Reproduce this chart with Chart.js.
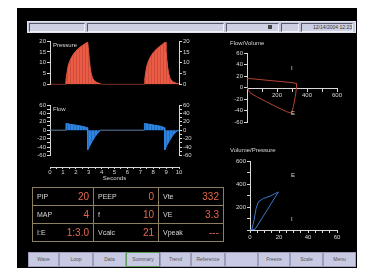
<!DOCTYPE html>
<html>
<head>
<meta charset="utf-8">
<script src="https://cdn.jsdelivr.net/npm/chart.js@4"></script>
<style>
body{margin:0;width:369px;height:268px;background:#fff;overflow:hidden;position:relative;font-family:"Liberation Sans",Arial,sans-serif;}
#screen{position:absolute;left:17px;top:8px;width:340px;height:260px;background:#000;}
canvas{position:absolute;}
.lbl{position:absolute;color:#d8d8d8;font-size:6px;line-height:6px;white-space:nowrap;}
#topbar{position:absolute;left:27px;top:21px;width:327px;height:10px;background:#c6c8dc;border:1px solid #e4e4f0;}
.field{position:absolute;top:1px;height:7px;border-top:1px solid #55576a;border-left:1px solid #55576a;border-bottom:1px solid #f0f0f8;border-right:1px solid #f0f0f8;background:#ccd0e2;font-size:5px;line-height:7px;color:#333;text-align:right;}
#buttons{position:absolute;left:28px;top:252px;height:15px;}
.btn{position:absolute;top:0;height:13px;background:#c8c9e2;border:1px solid #9c9cbc;font-size:5px;line-height:13px;color:#555;text-align:center;}
#tbl{position:absolute;left:32px;top:187px;border-collapse:collapse;}
#tbl td{border:1px solid #8c7f60;height:17px;padding:0 4px 0 4px;position:relative;}
#tbl .k{font-size:7px;color:#d8d8d8;float:left;line-height:17px;}
#tbl .v{font-size:10px;color:#e4684f;float:right;line-height:17px;}
</style>
</head>
<body>
<div id="screen"></div>
<div id="topbar"></div>
<div id="buttons"></div>

<canvas id="cPressure" width="180" height="55" style="left:26px;top:34px"></canvas>
<canvas id="cFlow" width="180" height="62" style="left:26px;top:98px"></canvas>
<canvas id="cTime" width="141" height="22" style="left:44px;top:160px"></canvas>
<canvas id="cFV" width="125" height="85" style="left:222px;top:44px"></canvas>
<canvas id="cVP" width="125" height="90" style="left:222px;top:150px"></canvas>

<div class="lbl" style="left:53px;top:42px">Pressure</div>
<div class="lbl" style="left:53px;top:106px">Flow</div>
<div class="lbl" style="left:230px;top:40px">Flow/Volume</div>
<div class="lbl" style="left:230px;top:147px">Volume/Pressure</div>
<div class="lbl" style="left:291px;top:65px">I</div>
<div class="lbl" style="left:291px;top:110px">E</div>
<div class="lbl" style="left:291px;top:172px">E</div>
<div class="lbl" style="left:291px;top:216px">I</div>

<table id="tbl"></table>

<script>
// waveforms (time in seconds)
const pressureTime = [0, 1.22, 1.25, 1.32, 1.42, 1.55, 1.7, 1.9, 2.15, 2.4, 2.65, 2.85, 2.92, 2.98, 3.05, 3.12, 3.2, 3.3, 3.45, 3.6, 3.8, 4.0,
  7.32, 7.35, 7.42, 7.52, 7.65, 7.8, 8.0, 8.25, 8.5, 8.72, 8.88, 8.93, 8.99, 9.06, 9.13, 9.21, 9.31, 9.45, 9.6, 9.8, 10];
const pressureValue = [0, 0, 2.5, 5.5, 8.8, 11, 12.8, 14.6, 16.3, 17.5, 18.5, 19.3, 19.4, 16, 11.5, 7.5, 4.8, 2.8, 1.6, 1, 0.5, 0,
  0, 2.5, 5.5, 8.8, 11, 12.8, 14.6, 16.3, 17.5, 18.5, 19.3, 19.4, 16, 11.5, 7.5, 4.8, 2.8, 1.6, 1, 0.5, 0.2];

const flowTime = [0, 1.22, 1.24, 1.6, 2.0, 2.4, 2.9, 2.92, 3.1, 3.3, 3.5, 3.7, 3.9,
  7.3, 7.32, 7.7, 8.1, 8.5, 8.88, 8.9, 9.06, 9.26, 9.46, 9.66, 9.85, 10];
const flowValue = [0, 0, 16, 14, 12, 10, 6, -47, -36, -25, -15, -7, 0,
  0, 16, 14, 12, 10, 6, -47, -36, -25, -15, -7, -2, 0];

// loops
const fvVolume = [0, 0, 100, 200, 300, 330, 330, 322, 310, 298, 264, 198, 131, 64, 20, 0];
const fvFlow = [0, 16, 13.5, 11, 8.5, 7, 0, -16, -32, -45, -42, -34, -25, -16, -9, 0];

const vpPressure = [0, 1.2, 2.8, 4.2, 5.8, 9.2, 13.8, 19.6, 3.5, 0];
const vpVolume = [0, 0, 86, 187, 245, 274, 294, 331, 6, 0];

// summary table
const tableLabels = [['PIP', 'PEEP', 'Vte'], ['MAP', 'f', 'VE'], ['I:E', 'Vcalc', 'Vpeak']];
const tableValues = [['20', '0', '332'], ['4', '10', '3.3'], ['1:3.0', '21', '---']];

const buttonLabels = ['Wave', 'Loop', 'Data', 'Summary', 'Trend', 'Reference', '', 'Freeze', 'Scale', 'Menu'];
const buttonEdges = [0, 31, 65, 98, 132, 163, 197, 230, 262, 295, 328];
const dateText = '12/14/2004 12:23';

// ---- screen chrome ----
var fields = [[1, 57], [59, 196], [198, 251], [253, 271], [273, 325]];
var bar = document.getElementById('topbar');
fields.forEach(function(f, i){
  var d = document.createElement('div');
  d.className = 'field';
  d.style.left = f[0] + 'px';
  d.style.width = (f[1] - f[0] - 2) + 'px';
  if (i == 4) d.textContent = dateText;
  if (i == 2) d.innerHTML = '<span style="display:inline-block;width:4px;height:4px;background:#444;margin:0 6px 0 0"></span>';
  bar.appendChild(d);
});

var btns = document.getElementById('buttons');
buttonLabels.forEach(function(b, i){
  var d = document.createElement('div');
  d.className = 'btn';
  d.style.left = buttonEdges[i] + 'px';
  d.style.width = (buttonEdges[i + 1] - buttonEdges[i] - 2) + 'px';
  d.textContent = b;
  if (b == 'Summary') d.style.borderColor = '#5f9a5f';
  btns.appendChild(d);
});

var tbl = document.getElementById('tbl');
var colW = [52, 56, 56];
tableLabels.forEach(function(row, r){
  var tr = document.createElement('tr');
  row.forEach(function(k, c){
    var td = document.createElement('td');
    td.style.width = colW[c] + 'px';
    td.innerHTML = '<span class="k">' + k + '</span><span class="v">' + tableValues[r][c] + '</span>';
    tr.appendChild(td);
  });
  tbl.appendChild(tr);
});

// ---- charts ----
var axisColor = '#d8d8d8';

function stripes(c1, c2) {
  var p = document.createElement('canvas');
  p.width = 3; p.height = 1;
  var g = p.getContext('2d');
  g.fillStyle = c1; g.fillRect(0, 0, 3, 1);
  g.fillStyle = c2; g.fillRect(2, 0, 1, 1);
  return g.createPattern(p, 'repeat');
}

function pts(xs, ys) {
  return xs.map(function(x, i){ return {x: x, y: ys[i]}; });
}

function yAxis(pos, min, max, step, width, labelEvery) {
  return {
    position: pos, min: min, max: max,
    afterFit: function(s){ s.width = width; },
    ticks: {
      stepSize: step, color: axisColor, font: {size: 6}, padding: 1, autoSkip: false, maxTicksLimit: 30,
      callback: function(v){ return v % labelEvery === 0 ? v : ''; }
    },
    grid: {drawOnChartArea: false, color: axisColor, tickLength: 3},
    border: {color: axisColor}
  };
}

var base = {
  responsive: false, animation: false, devicePixelRatio: 1,
  plugins: {legend: {display: false}, tooltip: {enabled: false}}
};

new Chart(document.getElementById('cPressure'), {
  type: 'line',
  data: {datasets: [{
    data: pts(pressureTime, pressureValue),
    borderColor: '#e0553f', borderWidth: 1,
    backgroundColor: stripes('#ea5c45', '#d24c3c'),
    fill: 'origin', pointRadius: 0, tension: 0
  }]},
  options: Object.assign({}, base, {
    layout: {padding: {top: 7, bottom: 4}},
    scales: {
      x: {type: 'linear', min: 0, max: 10, display: false},
      y: yAxis('left', 0, 20, 5, 24, 5),
      y2: yAxis('right', 0, 20, 5, 27, 5)
    }
  })
});

new Chart(document.getElementById('cFlow'), {
  type: 'line',
  data: {datasets: [{
    data: pts(flowTime, flowValue),
    borderColor: '#2f86e0', borderWidth: 1,
    segment: {borderColor: function(c){ return (c.p0.parsed.y === 0 && c.p1.parsed.y === 0) ? '#5f7fa6' : '#2f86e0'; }},
    backgroundColor: stripes('#2f86e0', '#2168c0'),
    fill: 'origin', pointRadius: 0, tension: 0
  }]},
  options: Object.assign({}, base, {
    layout: {padding: {top: 7, bottom: 4}},
    scales: {
      x: {type: 'linear', min: 0, max: 10, display: false},
      y: yAxis('left', -60, 60, 10, 24, 20),
      y2: yAxis('right', -60, 60, 10, 27, 20)
    }
  })
});

new Chart(document.getElementById('cTime'), {
  type: 'scatter',
  data: {datasets: [{data: []}]},
  options: Object.assign({}, base, {
    layout: {padding: {top: 3, left: 6, right: 6}},
    scales: {
      x: {
        type: 'linear', min: 0, max: 10,
        afterFit: function(s){ s.height = 15; },
        ticks: {stepSize: 0.5, color: axisColor, font: {size: 6}, padding: 0, autoSkip: false, maxRotation: 0, maxTicksLimit: 30,
          callback: function(v){ return v % 1 === 0 ? v : ''; }},
        grid: {drawOnChartArea: false, color: axisColor, tickLength: 2},
        border: {color: axisColor},
        title: {display: true, text: 'Seconds', color: axisColor, font: {size: 6}, padding: 0}
      },
      y: {display: false, min: 0, max: 1}
    }
  })
});

new Chart(document.getElementById('cFV'), {
  type: 'scatter',
  data: {datasets: [{
    data: pts(fvVolume, fvFlow), showLine: true,
    borderColor: '#b04434', borderWidth: 1, pointRadius: 0, fill: false
  }]},
  options: Object.assign({}, base, {
    layout: {padding: {top: 9, bottom: 7, right: 10}},
    scales: {
      x: {
        type: 'linear', position: 'center', min: 0, max: 600,
        ticks: {stepSize: 100, color: axisColor, font: {size: 6}, padding: 1, autoSkip: false, maxRotation: 0,
          callback: function(v){ return (v > 0 && v % 200 === 0) ? v : ''; }},
        grid: {drawOnChartArea: false, color: axisColor, tickLength: 3},
        border: {color: axisColor}
      },
      y: yAxis('left', -60, 60, 20, 25, 20)
    }
  })
});

new Chart(document.getElementById('cVP'), {
  type: 'scatter',
  data: {datasets: [{
    data: pts(vpPressure, vpVolume), showLine: true,
    borderColor: '#3a78c8', borderWidth: 1, pointRadius: 0, fill: false
  }]},
  options: Object.assign({}, base, {
    layout: {padding: {top: 11, right: 10}},
    scales: {
      x: {
        type: 'linear', min: 0, max: 60,
        afterFit: function(s){ s.height = 10; },
        ticks: {stepSize: 5, color: axisColor, font: {size: 6}, padding: 1, autoSkip: false, maxRotation: 0, maxTicksLimit: 30,
          callback: function(v){ return v % 20 === 0 ? v : ''; }},
        grid: {drawOnChartArea: false, color: axisColor, tickLength: 3},
        border: {color: axisColor}
      },
      y: {
        position: 'left', min: 0, max: 600,
        afterFit: function(s){ s.width = 28; },
        ticks: {stepSize: 100, color: axisColor, font: {size: 6}, padding: 1, autoSkip: false,
          callback: function(v){ return (v > 0 && v % 200 === 0) ? v : ''; }},
        grid: {drawOnChartArea: false, color: axisColor, tickLength: 3},
        border: {color: axisColor}
      }
    }
  })
});
</script>
</body>
</html>
